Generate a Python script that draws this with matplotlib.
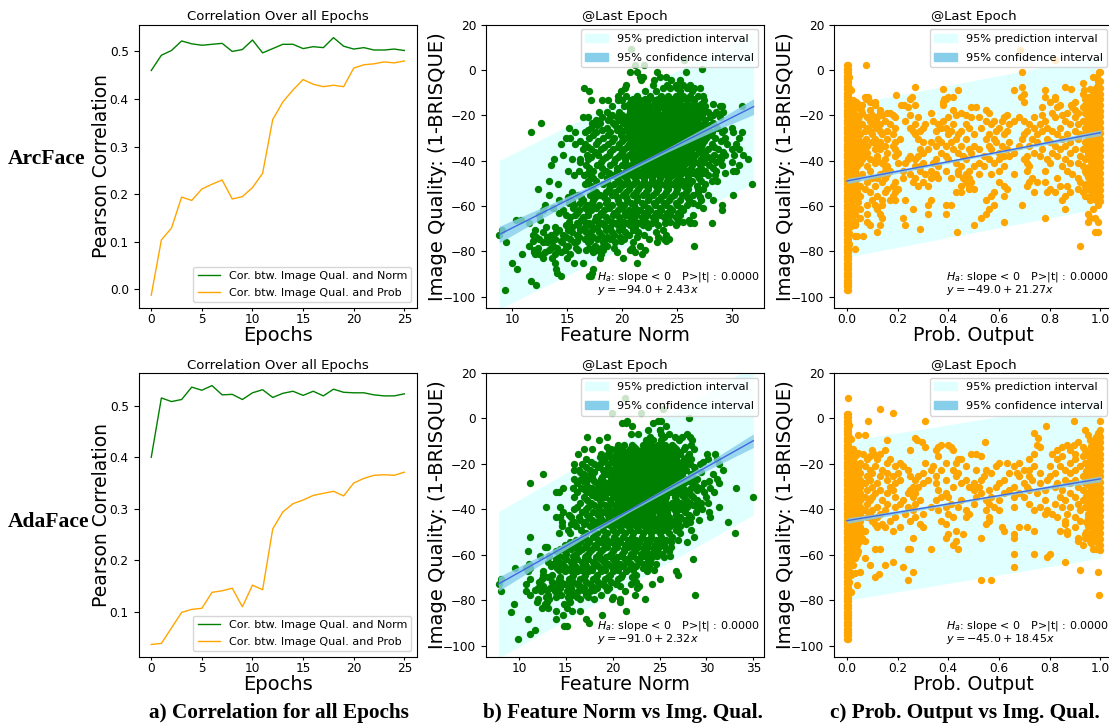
import numpy as np
import matplotlib
matplotlib.use("Agg")
import matplotlib.pyplot as plt
from matplotlib.patches import Patch

W, H = 1109, 723

epochs = list(range(26))
arc_cor_norm = [.460, .492, .502, .522, .516, .513, .515, .517, .500, .504, .524, .497, .506,
                .515, .515, .506, .510, .508, .529, .511, .505, .508, .503, .503, .505, .502]
arc_cor_prob = [-.012, .104, .129, .194, .187, .211, .221, .230, .190, .195, .214, .244, .357,
                .394, .419, .441, .431, .426, .429, .426, .465, .472, .474, .478, .476, .480]
ada_cor_norm = [.400, .515, .508, .512, .536, .530, .539, .521, .522, .512, .525, .531, .516,
                .524, .528, .520, .528, .519, .532, .526, .525, .525, .521, .519, .519, .523]
ada_cor_prob = [.037, .039, .069, .099, .105, .107, .138, .141, .146, .110, .152, .143, .261,
                .294, .310, .317, .326, .330, .334, .325, .350, .359, .365, .366, .365, .371]

# scatter points are stored as rows: (y, [x values])
arc_norm_rows = [
    (9, [20.8]), (4.3, [25.7]), (2.3, [21.2, 22]), (0.4, [27.3]),
    (-1, [20.7, 21.4, 23.2, 25.8]), (-3, [21.6, 21.9, 23.5, 24]), (-4.5, [21.7, 22.9, 24.5, 25.3]),
    (-6.5, [20.4, 22.8, 24.1, 24.9, 25.6, 26.2]), (-8, [16.5, 20.3, 23.7, 24.4, 25, 25.9, 26.6, 27.1]),
    (-9.5, [17, 19.9, 22.1, 23.1, 25.3, 26.4]),
    (-11.5, [19.6, 20.4, 21.4, 22.6, 23.6, 24.2, 24.9, 25.6, 26.2, 26.9, 27.4]),
    (-13.5, [17.2, 18.2, 18.7, 19.6, 20, 20.8, 21.6, 22.4, 23, 23.8, 24.5, 25.2, 25.9, 26.6, 27.5]),
    (-16, [19.1, 20.2, 21, 21.8, 22.5, 23.2, 23.8, 24.4, 25, 25.6, 26.2, 26.9, 27.6, 28.9, 29.1, 30.9]),
    (-18.5, [17.9, 18.6, 19.7, 20.7, 21.4, 22, 22.6, 23.2, 23.9, 24.5, 25.1, 25.7, 26.3, 27, 27.8, 28.6, 29.2]),
    (-21, [16.4, 16.9, 18.2, 18.9, 19.5, 20.4, 21.1, 21.7, 22.3, 22.9, 23.5, 24.1, 24.7, 25.3, 25.9, 26.5, 27.2, 28, 28.9]),
    (-23.5, [12.6, 17.3, 18, 19.2, 20.1, 20.8, 21.4, 22, 22.6, 23.2, 23.8, 24.4, 25, 25.6, 26.2, 26.8, 27.5, 28.3]),
    (-25.5, [15.2, 17.2, 18.6, 19.7, 20.5, 21.1, 21.7, 22.3, 22.9, 23.5, 24.1, 24.7, 25.3, 25.9, 26.5, 27.1, 27.8, 28.7, 30]),
    (-27.5, [11.7, 15.7, 16.6, 17.6, 18.9, 20, 20.8, 21.4, 22, 22.6, 23.2, 23.8, 24.4, 25, 25.6, 26.2, 26.8, 27.4, 28.2, 29.1, 30.1, 30.9]),
    (-30, [14.9, 15.3, 17, 18.3, 19.3, 20.3, 21, 21.6, 22.2, 22.8, 23.4, 24, 24.6, 25.2, 25.8, 26.4, 27, 27.7, 28.5, 29.4, 30.7]),
    (-32.5, [14.4, 15.7, 16.6, 17.6, 18.7, 19.7, 20.6, 21.3, 21.9, 22.5, 23.1, 23.7, 24.3, 24.9, 25.5, 26.1, 26.7, 27.3, 28.2, 29.6, 30.4]),
    (-35, [16.4, 17.2, 18.1, 19.2, 20.2, 21, 21.6, 22.2, 22.8, 23.4, 24, 24.6, 25.2, 25.8, 26.4, 27, 27.8, 28.8, 30, 30.7]),
    (-37.5, [14.6, 16.8, 17.8, 18.8, 19.8, 20.6, 21.3, 21.9, 22.5, 23.1, 23.7, 24.3, 24.9, 25.5, 26.1, 26.7, 27.4, 28.4, 29.4, 30.2, 31]),
    (-39.5, [13.8, 15.4, 16.2, 16.9, 18.3, 19.4, 20.3, 21, 21.6, 22.2, 22.8, 23.4, 24, 24.6, 25.2, 25.8, 26.5, 27.2, 28.1, 29, 31.5]),
    (-42, [13.5, 16.7, 17.7, 18.9, 20, 20.8, 21.5, 22.1, 22.7, 23.3, 23.9, 24.5, 25.1, 25.7, 26.4, 27.1, 27.9, 29.1, 30.7]),
    (-44.5, [15.1, 16.1, 17.4, 18.5, 19.5, 20.4, 21.1, 21.8, 22.4, 23, 23.6, 24.2, 24.8, 25.4, 26, 26.8, 27.6, 28.6, 30.1, 30.4]),
    (-46.5, [15.6, 16.5, 17.1, 18.1, 19.1, 20.1, 20.9, 21.6, 22.2, 22.8, 23.4, 24, 24.6, 25.3, 26, 26.8, 27.8, 28.5]),
    (-49, [13.3, 16.9, 17.6, 18.6, 19.7, 20.5, 21.3, 22, 22.7, 23.4, 24.1, 24.9, 25.6, 26.4, 27.2, 28.2, 28.7]),
    (-50.5, [14.2, 31.9, 16.6, 18.3, 19.3, 20.2, 21, 21.8, 22.6, 23.6, 24.5, 25.3, 26.1, 27.6]),
    (-52.5, [12.3, 17.4, 18.8, 19.7, 20.6, 21.5, 22.4, 23.3, 24.2, 25, 26, 26.9, 27.4]),
    (-55, [13.3, 16, 17.1, 18, 19.1, 20.1, 21, 21.9, 22.8, 23.8, 24.7, 25.5, 26.5, 27.8, 30.1]),
    (-57.5, [14.3, 15.4, 16.4, 17.4, 18.6, 19.6, 20.5, 21.4, 22.4, 23.3, 24.3, 25.3, 26.1, 27.2, 28.3]),
    (-59.5, [13, 15.6, 16.8, 17.9, 19.1, 20.2, 21.1, 22, 23, 24, 25, 25.9, 26.9, 29.1]),
    (-62, [12.8, 14.6, 16.1, 17.2, 18.4, 19.6, 20.6, 21.6, 22.6, 23.6, 24.6, 25.6, 29.1]),
    (-64, [12.4, 14.9, 15.7, 16.9, 18, 19.2, 20.3, 21.3, 22.3, 23.4, 24.4, 25.3, 26.5]),
    (-66, [10.3, 10.8, 12.5, 16.3, 17.5, 18.7, 19.8, 20.9, 22, 23, 24.1, 25.1, 26.1]),
    (-67.7, [11.5, 15.9, 17, 18.2, 19.4, 20.5, 21.6, 22.7, 23.9, 25, 26.2, 26.6, 28.2]),
    (-69.5, [13.1, 13.9, 15.4, 16.6, 17.7, 18.9, 20, 21.2, 22.4]),
    (-70.8, [9.1, 12.1, 14.3, 15.1, 16.2, 17.3, 18.5, 19.7, 21, 23.7]),
    (-72.6, [8.8, 11.9, 13.5, 14.6, 15.9, 17, 18.1, 19.3, 20.6, 22, 24]),
    (-74.5, [12.4, 13.9, 15.3, 16.6, 17.7, 18.9, 20.2, 22.5, 23.8, 24.3]),
    (-76, [9.4, 12.8, 13.2, 14.5, 15.6, 16.9, 18.3, 19.4, 21, 23.2]),
    (-77.7, [11.5, 13.7, 14.9, 15.1, 17.5, 18.6, 26.6, 21.6]),
    (-79.5, [12, 13.3, 14.8, 16, 16.7, 17.6, 18.3, 20.7, 22.1]),
    (-81, [10.9, 12.1, 12.4, 13.9, 15.3, 18.1, 21.8]),
    (-83, [12.8, 13.6, 15, 18, 20.1]),
    (-85.3, [10, 13.9, 15.6, 16.4, 21.4]),
    (-88, [10.4, 14, 17.4]), (-89.5, [14.1, 17.3]), (-91, [14.4, 17.2, 17]),
    (-93.3, [11.7]), (-95, [12.2]), (-97, [9.3]),
]
# points that fill the dense middle and the lower left group
arc_norm_fill = [
    (-12.7, [21, 22.1, 23.3, 24.6, 25.4, 26.5]),
    (-15, [20.6, 21.4, 22.2, 22.9, 23.5, 24.1, 24.8, 25.3, 25.9, 26.6, 27.2, 28.3]),
    (-17.3, [20.7, 21.4, 22, 22.6, 23.2, 23.8, 24.4, 25, 25.6, 26.2, 26.8, 27.5]),
    (-19.7, [19.1, 20, 20.6, 21.2, 21.8, 22.4, 23, 23.6, 24.2, 24.8, 25.4, 26, 26.6, 27.3, 28.3]),
    (-22.2, [17.6, 18.7, 19.7, 20.2, 20.8, 21.4, 22, 22.6, 23.2, 23.8, 24.4, 25, 25.6, 26.2, 26.8, 27.6]),
    (-24.5, [17.7, 19.4, 20.5, 21.1, 21.7, 22.3, 22.9, 23.5, 24.1, 24.7, 25.3, 25.9, 26.5, 27.2, 28]),
    (-26.5, [16.9, 18.2, 19.5, 20.3, 21, 21.6, 22.2, 22.8, 23.4, 24, 24.6, 25.2, 25.8, 26.4, 27, 27.6, 29.3]),
    (-28.8, [17.4, 18.7, 19.9, 20.6, 21.2, 21.8, 22.4, 23, 23.6, 24.2, 24.8, 25.4, 26, 26.6, 27.2, 28]),
    (-31.2, [16.2, 17.8, 19.1, 20, 20.8, 21.4, 22, 22.6, 23.2, 23.8, 24.4, 25, 25.6, 26.2, 26.8, 27.5, 29]),
    (-33.8, [16.9, 18.4, 19.6, 20.5, 21.1, 21.7, 22.3, 22.9, 23.5, 24.1, 24.7, 25.3, 25.9, 26.5, 27.2, 28.4]),
    (-36.2, [17.5, 18.9, 20, 20.9, 21.5, 22.1, 22.7, 23.3, 23.9, 24.5, 25.1, 25.7, 26.3, 27, 27.6, 29.2]),
    (-38.5, [17.2, 18.5, 19.6, 20.4, 21.1, 21.7, 22.3, 22.9, 23.5, 24.1, 24.7, 25.3, 25.9, 26.5, 27.8, 28.9]),
    (-40.8, [16.2, 18.1, 19.3, 20.3, 21.1, 21.8, 22.4, 23, 23.6, 24.2, 24.8, 25.4, 26, 26.7, 27.5, 28.6, 30]),
    (-43.3, [17, 18.2, 19.5, 20.5, 21.3, 22, 22.6, 23.2, 23.8, 24.4, 25, 25.6, 26.3, 27.2, 28.3]),
    (-45.5, [16.9, 18.8, 19.8, 20.6, 21.4, 22.1, 22.7, 23.3, 23.9, 24.5, 25.1, 25.8, 26.5, 27.4, 29.4]),
    (-47.8, [17.4, 18.6, 19.5, 20.4, 21.2, 22, 22.7, 23.5, 24.3, 25.1, 26, 27]),
    (-51.4, [17.2, 18.9, 19.9, 20.7, 21.6, 22.3, 23.1, 24, 24.9, 25.7, 26.8]),
    (-53.8, [15.4, 17.6, 18.5, 19.4, 20.4, 21.3, 22.2, 23.1, 24, 24.9, 25.8, 26.9]),
    (-56.2, [15.1, 16.3, 17.5, 18.4, 19.5, 20.4, 21.4, 22.5, 23.6, 24.5, 25.9, 27.1]),
    (-58.6, [15.2, 16.2, 17.3, 18.5, 19.7, 20.8, 21.8, 22.9, 23.8, 24.9, 26.5]),
    (-60.9, [13.7, 15.5, 16.6, 17.6, 18.8, 20, 21.2, 22.4, 23.5, 24.4, 25.4, 27.4]),
    (-63, [14.3, 15.9, 16.9, 18.1, 19.3, 20.3, 21, 22.1, 23.1, 24.1, 25.1]),
    (-65, [15.3, 16.4, 17.6, 18.5, 19.7, 20.7, 21.8, 22.8, 23.8, 24.9]),
    (-66.9, [15.2, 16.6, 17.9, 19.1, 20.2, 21.3, 22.2, 24.4, 25.6]),
    (-68.6, [14.9, 16, 17.2, 18.4, 19.6, 20.7, 21.9, 23.3, 24.9]),
    (-71.7, [12.8, 14, 15.4, 16.7, 17.9, 19.1, 20.3, 21.5, 23.1]),
    (-73.6, [12.2, 13.2, 14.9, 16.1, 17.4, 18.6, 19.8, 21.4, 23.3]),
    (-75.3, [11.9, 13.6, 14.4, 15.9, 17.1, 18.4, 19.9, 24]),
    (-78.6, [12.3, 13.5, 14.1, 15.8, 17, 18.1, 19.3, 20.9]),
    (-80.2, [12, 13, 14.4, 17.4, 19.5, 21.2]),
]

ada_norm_rows = [
    (9, [21.3]), (4.3, [25.4]), (2.3, [19.9, 23]), (0.4, [28.1]),
    (-1, [24.8, 25.1, 21.5]), (-2.2, [21, 21.4, 24.3]), (-3.3, [22.1, 25.7]), (-5, [23.8, 25, 25]),
    (-7, [21.9, 22.7, 25.1, 26, 27.9]), (-8, [17.3, 19.4, 24, 25.5, 26.6, 27.4, 28.2]),
    (-9.5, [18.5, 23.6, 24.3, 25.2, 27.1, 28.5]),
    (-11.5, [20.6, 21.2, 22.1, 23.2, 24, 24.8, 25.6, 26.3, 28.4]),
    (-13.5, [16.9, 17.8, 19.8, 20.4, 21, 21.8, 22.5, 23.2, 23.9, 24.6, 25.3, 26, 26.8, 27.6, 28.7]),
    (-15.5, [16.3, 18.7, 19.5, 20.3, 21, 21.7, 22.4, 23, 23.7, 24.4, 25.1, 25.8, 26.5, 27.2, 28.1, 30.1, 30.9]),
    (-18, [17.2, 19.1, 19.9, 20.6, 21.3, 22, 22.7, 23.3, 24, 24.7, 25.4, 26.1, 26.8, 27.6, 28.4, 30.2, 31.1]),
    (-20, [15.9, 16.7, 18, 18.6, 19.5, 20.2, 20.9, 21.6, 22.3, 23, 23.7, 24.4, 25.1, 25.8, 26.5, 27.3, 28.2, 29.3, 31.3]),
    (-22.5, [15.9, 16.4, 17.6, 19, 19.9, 20.6, 21.3, 22, 22.7, 23.4, 24.1, 24.8, 25.5, 26.2, 27, 27.8, 28.8, 31.8]),
    (-24.5, [12.6, 16.9, 17.7, 19.4, 20.3, 21, 21.7, 22.4, 23.1, 23.8, 24.5, 25.2, 25.9, 26.6, 27.4, 28.3, 30.7]),
    (-26.5, [15.9, 16.6, 17.4, 18.7, 19.8, 20.6, 21.3, 22, 22.7, 23.4, 24.1, 24.8, 25.5, 26.2, 27, 27.9, 29, 31.1]),
    (-28.5, [11.2, 16.2, 17.2, 18.3, 19.4, 20.3, 21, 21.7, 22.4, 23.1, 23.8, 24.5, 25.2, 25.9, 26.7, 27.6, 28.6, 29.7, 31.3]),
    (-30.5, [14.7, 15.8, 16.6, 17.8, 19, 20, 20.7, 21.4, 22.1, 22.8, 23.5, 24.2, 24.9, 25.6, 26.4, 27.3, 28.3, 29.4, 30.4, 33.2]),
    (-32.5, [13.9, 14.3, 16.2, 17.3, 18.6, 19.6, 20.4, 21.1, 21.8, 22.5, 23.2, 23.9, 24.6, 25.3, 26.1, 27, 28, 29.7, 30.8]),
    (-34.5, [15.9, 16.9, 18.2, 19.2, 20.1, 20.8, 21.5, 22.2, 22.9, 23.6, 24.3, 25, 25.7, 26.6, 27.6, 28.6, 29.9, 35]),
    (-37, [16.5, 17.7, 18.8, 19.8, 20.6, 21.3, 22, 22.7, 23.4, 24.1, 24.8, 25.5, 26.3, 27.2, 28.2, 29.4, 30.2]),
    (-39, [12.9, 14.4, 16.2, 17.4, 18.4, 19.4, 20.3, 21, 21.7, 22.4, 23.1, 23.8, 24.5, 25.2, 26, 26.9, 27.9, 29, 31.3]),
    (-41, [14.7, 16.7, 17.9, 19, 20, 20.8, 21.5, 22.2, 22.9, 23.6, 24.3, 25, 25.8, 26.7, 27.7, 28.9, 30.3]),
    (-43.5, [13.9, 14.4, 15.5, 16.4, 17.5, 18.6, 19.6, 20.5, 21.3, 22, 22.7, 23.5, 24.3, 25.1, 26, 27.2, 28.4, 30.4]),
    (-45.5, [14.6, 15.9, 17, 18.2, 19.2, 20.2, 21, 21.8, 22.6, 23.4, 24.2, 25, 26, 27, 28.2, 32.3]),
    (-47.5, [14.6, 16.1, 17.6, 18.7, 19.8, 20.7, 21.6, 22.5, 23.3, 24.2, 25.1, 26.1, 27.2]),
    (-50.5, [14.3, 15.4, 17.2, 18.3, 19.4, 20.4, 21.3, 22.2, 23.2, 24.1, 25, 26, 27.2, 33]),
    (-52, [11.2, 16.8, 17.9, 19.1, 20.1, 21.1, 22.1, 23.1, 24.1, 25.1, 26.3, 28.7]),
    (-54.5, [15.4, 16.5, 17.5, 18.6, 19.7, 20.8, 21.8, 22.8, 23.9, 25, 26.2, 27.9]),
    (-56.5, [13, 12.8, 15.1, 16, 17.1, 18.2, 19.4, 20.5, 21.6, 22.7, 23.8, 24.9, 26.2]),
    (-58.5, [11, 13.9, 14.9, 16.4, 17.6, 18.8, 20, 21.2, 22.4, 23.5, 24.7, 26]),
    (-60.5, [12.2, 13.2, 14.3, 15.8, 17.2, 18.4, 19.6, 20.9, 22.2, 23.4, 24.7, 26.1]),
    (-62, [13.9, 15, 16.2, 17.4, 18.7, 20, 21.3, 22.6, 23.8, 28.6]),
    (-64, [11.1, 13.6, 14.6, 15.8, 17, 18.2, 19.5, 20.8, 22, 23.3, 24.6]),
    (-65.7, [9.6, 10.7, 11.2, 14.1, 15.4, 16.6, 17.8, 19.1, 20.4, 21.8, 23.2]),
    (-67.3, [11, 12.6, 14.9, 16.2, 17.4, 18.7, 20, 21.4, 23.7, 26.7]),
    (-68.7, [12.6, 13.5, 15.8, 17, 18.3, 19.7, 21, 22.5, 27]),
    (-70.8, [8.1, 11.2, 12.5, 14.3, 15.3, 16.5, 17.9, 19.2, 20.6, 25]),
    (-72.8, [7.9, 10.8, 13.8, 14.9, 16.2, 17.6, 18.9, 20.3, 22, 24.2]),
    (-74.5, [12, 13.3, 14.4, 15.6, 16.9, 18.3, 19.6, 22.6]),
    (-76, [8.1, 10.8, 12.4, 13.8, 15.1, 16.3, 17.6, 21.3]),
    (-77.8, [11.2, 13.1, 14.5, 15.8, 17.1, 18.7, 22.4, 28.8]),
    (-79.3, [12, 13.2, 15.3, 16.5, 18, 19.9, 20.8, 23.4]),
    (-81, [11.9, 13, 15.4, 20.8]), (-81.5, [9.5, 14.8, 12.8]), (-83.5, [12.5, 13.1, 15.1]),
    (-84.7, [14, 16.5, 15.7, 21.4]), (-85.3, [9.2]), (-86.5, [14.7, 18.9]),
    (-88.2, [11, 14, 17.1]), (-90, [17.5]), (-91.5, [14.8, 15.1]), (-93.3, [11.7]), (-95, [11.2]), (-97, [9.9]),
]
ada_norm_fill = [
    (-12.6, [19.4, 20.8, 22.3, 23.5, 24.4, 25.2, 26.5, 27.7]),
    (-14.6, [19.6, 20.7, 21.4, 22.1, 22.8, 23.5, 24.2, 24.9, 25.6, 26.3, 27.1]),
    (-16.8, [18.6, 19.7, 20.6, 21.3, 22, 22.7, 23.3, 24, 24.7, 25.4, 26.1, 26.8, 27.9]),
    (-19, [17.7, 18.9, 20, 20.7, 21.4, 22.1, 22.7, 23.4, 24.1, 24.8, 25.5, 26.2, 27, 27.9, 29.6]),
    (-21.2, [17.1, 18.4, 19.5, 20.3, 21, 21.7, 22.4, 23.1, 23.8, 24.5, 25.2, 25.9, 26.7, 27.6, 28.7]),
    (-23.5, [16.5, 18, 19.1, 20, 20.7, 21.4, 22.1, 22.8, 23.5, 24.2, 24.9, 25.6, 26.4, 27.3, 29.4]),
    (-25.6, [17.8, 18.9, 20, 20.7, 21.4, 22.1, 22.8, 23.5, 24.2, 24.9, 25.6, 26.3, 27.2, 28.6]),
    (-27.6, [16.8, 18, 19, 20, 20.7, 21.4, 22.1, 22.8, 23.5, 24.2, 24.9, 25.6, 26.3, 27.2, 28.1, 30.3]),
    (-29.6, [17.3, 18.5, 19.6, 20.4, 21.1, 21.8, 22.5, 23.2, 23.9, 24.6, 25.3, 26, 26.9, 28.9]),
    (-31.6, [17, 18.1, 19.3, 20.3, 21, 21.7, 22.4, 23.1, 23.8, 24.5, 25.2, 25.9, 26.7, 27.7, 29]),
    (-33.6, [17.8, 19, 20, 20.8, 21.5, 22.2, 22.9, 23.6, 24.3, 25, 25.7, 26.6, 27.4, 28.4]),
    (-35.8, [17.3, 18.6, 19.7, 20.6, 21.3, 22, 22.7, 23.4, 24.1, 24.8, 25.6, 26.7, 27.8, 29]),
    (-38, [18, 19.2, 20.2, 20.9, 21.6, 22.3, 23, 23.7, 24.4, 25.1, 25.9, 26.7, 27.7, 28.6]),
    (-40, [15.9, 17.1, 18.5, 19.6, 20.5, 21.2, 21.9, 22.6, 23.3, 24, 24.7, 25.5, 26.5, 27.3, 29.5]),
    (-42.3, [15.3, 17.3, 18.4, 19.5, 20.4, 21.1, 21.8, 22.6, 23.4, 24.2, 25, 25.8, 26.8, 28.1]),
    (-44.5, [16.5, 17.8, 18.9, 19.9, 20.8, 21.6, 22.3, 23.1, 23.9, 24.7, 25.5, 26.6, 27.7, 29.2]),
    (-46.5, [15.6, 16.9, 18.1, 19.3, 20.2, 21.1, 21.9, 22.8, 23.7, 24.6, 25.6, 26.6, 27.8]),
    (-49, [15.2, 16.6, 17.9, 19, 20, 20.9, 21.8, 22.7, 23.7, 24.6, 25.6, 26.8, 28.3]),
    (-53.3, [16.1, 17.3, 18.4, 19.4, 20.5, 21.6, 22.5, 23.5, 24.6, 25.7, 27]),
    (-55.5, [14.9, 16.2, 17.1, 18.1, 19.2, 20.2, 21.3, 22.3, 23.4, 24.5, 25.5]),
    (-57.5, [14.4, 15.6, 16.7, 17.8, 19, 20.1, 21.2, 22.3, 23.3, 24.4, 25.7]),
    (-59.5, [15, 16.1, 17.4, 18.5, 19.8, 21, 22, 23, 24.1, 25.3]),
    (-61.2, [14.8, 16, 17, 18.2, 19.3, 20.5, 21.8, 23, 24.2, 25.5]),
    (-63, [13.1, 14.3, 15.5, 16.7, 17.9, 19.1, 20.3, 21.5, 22.8, 24]),
    (-64.9, [13.4, 14.8, 16, 17.2, 18.4, 19.8, 21.1, 22.5, 23.9]),
    (-66.5, [14.3, 15.4, 16.6, 17.8, 19.2, 20.6, 22.2, 24.4]),
    (-69.8, [13.1, 14.4, 15.7, 16.9, 18.2, 19.5, 20.9, 22.1]),
    (-71.8, [12.1, 13.5, 14.5, 15.8, 17.1, 18.4, 19.8, 22.5]),
    (-73.6, [12.6, 13.9, 15.2, 16.5, 17.8, 19.2, 20.8, 22.8]),
    (-75.3, [11.7, 13, 14.2, 15.5, 16.8, 18, 19.4]),
    (-78.5, [12.9, 14, 15.2, 16.2, 17.4, 20]),
]

arc_prob_rows = [
    (8.8, [.683]), (4.3, [.82]), (2.3, [.075]), (-1, [.69, .994]), (-3, [.97, .985]), (-5, [.99]),
    (-6, [.93]), (-7.5, [.27, .69, .86]), (-8.5, [.38, .885, .96]), (-9, [.44, .66, .78, .935]),
    (-10.5, [.70, .93, .98]), (-11, [.195, .985]), (-12, [.07, .085, .255, .40, .42, .685, .78, .82, .95]),
    (-13, [.075, .25, .39, .385, .82, .94, .97]), (-14, [.035, .09, .11, .38, .70, .80, .90, .96]),
    (-15.5, [.03, .06, .11, .215, .225, .27, .38, .885, .84, .94, .975]),
    (-16.5, [.24, .49, .51, .77, .83, .89, .93, .98]), (-17.5, [.055, .09, .13, .55, .42, .90, .96]),
    (-19, [.06, .13, .16, .17, .33, .45, .56, .81, .87, .91, .94, .985]),
    (-20, [.05, .10, .14, .18, .25, .47, .43, .63, .77, .85, .97]),
    (-21, [.03, .08, .12, .19, .28, .40, .49, .52, .62, .68, .74, .82, .90, .95]),
    (-22.5, [.04, .09, .115, .15, .23, .34, .38, .55, .58, .61, .66, .70, .78, .86, .93, .98]),
    (-24, [.02, .06, .10, .13, .17, .27, .31, .36, .42, .47, .57, .64, .72, .76, .88, .91, .96]),
    (-25.5, [.045, .08, .115, .19, .25, .30, .37, .39, .48, .53, .60, .74, .79, .84, .94, .975]),
    (-27, [.03, .07, .09, .13, .16, .26, .29, .35, .41, .45, .59, .63, .71, .77, .81, .90, .99]),
    (-28.5, [.02, .05, .10, .14, .18, .27, .40, .44, .50, .56, .62, .70, .75, .83, .87, .92, .96]),
    (-30.5, [.035, .075, .11, .16, .21, .28, .36, .43, .47, .55, .58, .69, .73, .79, .85, .91, .97]),
    (-32, [.02, .06, .10, .13, .19, .30, .33, .37, .41, .59, .64, .75, .80, .88, .94, .99]),
    (-33.5, [.04, .08, .12, .15, .18, .35, .39, .45, .50, .56, .61, .68, .72, .82, .86, .96]),
    (-35, [.03, .06, .11, .13, .19, .29, .32, .42, .48, .52, .57, .63, .77, .84, .90, .93, .98]),
    (-36.5, [.02, .05, .08, .16, .20, .30, .37, .44, .49, .60, .66, .74, .81, .88, .95]),
    (-38, [.04, .07, .12, .19, .25, .28, .39, .46, .54, .62, .64, .71, .76, .83, .92, .97]),
    (-39.5, [.03, .06, .09, .12, .15, .24, .27, .35, .40, .47, .56, .60, .70, .79, .86, .94]),
    (-41, [.02, .05, .11, .14, .20, .23, .30, .34, .43, .52, .58, .71, .80, .88, .91, .98]),
    (-42.5, [.04, .08, .15, .16, .27, .29, .36, .45, .50, .54, .62, .72, .85, .93, .96]),
    (-44.5, [.03, .09, .15, .17, .22, .29, .33, .39, .44, .48, .60, .71, .78, .87, .94]),
    (-46, [.02, .06, .13, .16, .25, .31, .35, .44, .47, .52, .57, .66, .89, .97]),
    (-47.5, [.04, .10, .12, .15, .22, .27, .33, .36, .41, .46, .48, .73, .83, .91, .99]),
    (-49.5, [.03, .08, .14, .19, .26, .30, .47, .49, .60, .72, .75, .78, .92, .96]),
    (-51, [.05, .11, .18, .28, .32, .45, .48, .62, .71, .84, .87, .94]),
    (-52.5, [.03, .07, .16, .20, .48, .50, .63, .80, .91, .98]),
    (-54, [.04, .09, .15, .19, .43, .45, .58, .74, .79, .82, .88, .93, .97]),
    (-55.5, [.02, .05, .12, .18, .57, .62, .86, .94, .97]),
    (-57.5, [.03, .10, .14, .17, .19, .23, .33, .55, .85, .96, .99]),
    (-59.5, [.08, .11, .14, .32, .39, .41, .58, .69, .99]), (-61.5, [.05, .12, .26, .56, .86, .97]),
    (-63.5, [.03, .08, .13, .32, .39, .55, .95]), (-65.5, [.05, .14, .22, .53, .78, .96, .98]),
    (-67, [.08, .03, .62, .99, .95]), (-68.5, [.09, .03, .23, .50, .13]), (-70, [.29]),
    (-71.5, [.12, .435, .98, .99]), (-73.2, [.04, .065, .03]), (-77.7, [.92]), (-79.2, [.03]),
]
ada_prob_rows = [
    (8.8, [.005]), (4.3, [.13]), (2.3, [.18]), (-1.3, [.085, .31, .895]), (-3.2, [.785]), (-5.3, [.94]), (-6.2, [.74]),
    (-7.5, [.07, .045, .95, .995]), (-8.5, [.27, .755]), (-9.5, [.16, .275, .96]),
    (-10.3, [.295, .545, .91]), (-11.5, [.37, .40, .75, .895, .98, .87]), (-12.5, [.31, .36, .76, .41, .85, .93]),
    (-14, [.10, .15, .25, .35, .42, .83, .88, .94, .97]), (-15.5, [.04, .065, .105, .13, .49, .51, .74, .81, .90, .99]),
    (-16.5, [.09, .36, .53, .85, .93, .97]), (-18, [.08, .12, .17, .45, .44, .72, .83, .90, .96]),
    (-19.5, [.05, .16, .21, .31, .39, .43, .60, .63, .68, .88, .94, .99]),
    (-21, [.07, .11, .19, .22, .34, .47, .59, .66, .74, .80, .84, .92, .97]),
    (-22.5, [.03, .09, .14, .24, .33, .37, .42, .51, .55, .70, .72, .86, .90, .95]),
    (-24, [.05, .10, .16, .20, .30, .44, .57, .64, .67, .76, .82, .88, .98]),
    (-25.5, [.03, .08, .13, .18, .25, .28, .35, .43, .54, .68, .72, .80, .93, .96]),
    (-27, [.05, .09, .16, .21, .27, .32, .39, .47, .53, .62, .73, .79, .86, .90, .99]),
    (-28.5, [.03, .07, .12, .19, .30, .35, .45, .50, .60, .70, .76, .83, .88, .94]),
    (-30, [.05, .10, .17, .26, .28, .42, .48, .52, .59, .66, .71, .82, .91, .97]),
    (-31.5, [.03, .08, .13, .18, .25, .36, .50, .56, .64, .72, .78, .85, .93, .99]),
    (-33, [.05, .11, .16, .24, .27, .39, .53, .62, .68, .75, .88, .95]),
    (-34.5, [.03, .07, .10, .19, .26, .37, .40, .51, .57, .66, .70, .84, .90, .97]),
    (-36, [.05, .09, .14, .22, .29, .35, .45, .55, .60, .78, .86, .93, .99]),
    (-37.5, [.03, .08, .16, .21, .27, .41, .50, .56, .72, .82, .91, .96]),
    (-39, [.05, .12, .19, .24, .33, .39, .44, .58, .66, .76, .85, .88, .94]),
    (-40.5, [.03, .07, .10, .15, .26, .36, .47, .55, .60, .74, .79, .92, .98]),
    (-42, [.05, .09, .13, .23, .30, .40, .48, .78, .81, .87, .95]),
    (-43.5, [.03, .08, .12, .19, .27, .42, .47, .56, .83, .90, .97]),
    (-45, [.05, .10, .17, .25, .37, .56, .86, .92, .99]), (-46.5, [.03, .11, .14, .29, .39, .55, .86, .95]),
    (-48, [.05, .12, .15, .21, .30, .61, .68, .71, .90, .98]), (-49.5, [.03, .07, .18, .43, .62, .74, .84, .87]),
    (-51, [.05, .40, .46, .66, .87, .94, .99]), (-52.5, [.03, .06, .26, .39, .53, .66, .91, .94]),
    (-54, [.05, .07, .43, .91, .96, .98]), (-55.5, [.03, .04, .42, .93]), (-57.5, [.03, .11, .13, .24, .25, .33, .44, .97]),
    (-59.5, [.04, .66, .74, .80]), (-60.8, [.79]), (-61.5, [.03, .07]), (-63, [.18, .86]), (-64.5, [.09, .15]),
    (-65.5, [.22, .66]), (-66.5, [.92]), (-67.5, [.05, .26, .99]), (-68.5, [.125]), (-70, [.11]),
    (-71, [.53, .57, .24]), (-73.2, [.04]), (-77.8, [.995]), (-76.5, [.015]),
]

# thick vertical strips of points at the two ends of the probability axis: (x, [y values])
strip0_y = [2, .5, -1, -2.5, -4, -5.5, -7, -8.5, -10, -11.5, -13, -14.5, -16, -17.5, -19, -20.5, -22, -23.5,
            -25, -26.5, -28, -29.5, -31, -32.5, -34, -35.5, -37, -38.5, -40, -41.5, -43, -44.5, -46, -47.5,
            -49, -50.5, -52, -53.5, -55, -56.5, -58, -59.5, -61, -62.5, -64, -65.5, -67, -68.5, -70, -71.5,
            -73, -74.5, -76, -77.5, -79, -80.5, -82, -83.5, -85, -86.5, -88, -89.5, -91, -92.5, -94, -95.5, -97]
end_columns = [
    (.001, strip0_y), (.004, strip0_y),
    (.009, [-3, -8, -13, -16, -19, -22, -25, -28, -31, -34, -37, -40, -43, -46, -49, -52, -55, -58, -61, -64, -67, -72, -77]),
    (.016, [-9, -14.5, -17.5, -20.5, -23.5, -26.5, -29.5, -32.5, -35.5, -38.5, -41.5, -44.5, -47.5, -50.5, -53.5, -56.5, -59.5, -62.5, -69]),
    (.024, [-13.5, -18.8, -22.4, -24.3, -29, -31.6, -35, -38.7, -41.2, -45.8, -48.3, -53, -57.4, -64.6]),
    (.033, [-16.6, -20.1, -25.7, -27.4, -33.2, -36.9, -42.5, -44.1, -50, -55.3, -60.8, -68]),
    (.043, [-15.2, -21.8, -24.9, -30.3, -34.4, -39.8, -46.6, -51.7, -58.2]),
    (.999, [-1, -5, -8, -10.5, -13, -15.5, -18, -20.5, -23, -25.5, -28, -30.5, -33, -35.5, -38, -40.5, -43, -45.5, -48, -50.5, -53, -55.5, -58]),
    (.99, [-6.5, -9.3, -11.8, -14.2, -16.8, -19.3, -21.7, -24.2, -26.8, -29.3, -31.7, -34.2, -36.8, -39.3, -41.8, -44.2, -46.8, -49.3, -51.8, -54.2, -56.8]),
    (.981, [-8, -12.4, -15, -17.6, -20, -22.4, -25, -27.6, -30, -32.4, -35, -37.6, -40, -42.4, -45, -47.6, -50, -52.4, -57.6]),
    (.972, [-10.6, -13.8, -16.2, -18.9, -21.3, -23.8, -26.3, -28.9, -31.2, -33.8, -36.3, -38.9, -41.2, -43.8, -46.3, -48.9, -54]),
    (.963, [-12.2, -17.2, -19.7, -22.9, -25.1, -28, -30.6, -34.6, -37.1, -40.4, -42.7, -46, -50.8, -55]),
    (.953, [-14.6, -20.8, -24.4, -29.3, -32.8, -36.2, -44, -47.2, -52.6]),
    (.942, [-16.1, -23.1, -27.2, -34, -39, -45.4, -50.2]),
]

arc_norm_x, arc_norm_band_hi, arc_norm_band_lo = [8.8, 32], [-40, 16.5], [-105.5, -50]
arc_norm_fit = [-72.6, -16.2]
arc_norm_ci_x = [8.8, 14, 18, 21, 24, 28, 32]
arc_norm_ci_lo = [-76.2, -62, -51.4, -43.8, -36.6, -27.8, -19.7]
arc_norm_ci_hi = [-69, -58, -49.2, -42.2, -34.8, -24.2, -12.7]

ada_norm_x, ada_norm_band_hi, ada_norm_band_lo = [7.8, 35], [-41, 23], [-105.5, -42.5]
ada_norm_fit = [-72.9, -9.8]
ada_norm_ci_x = [7.8, 13, 18, 22, 26, 30, 35]
ada_norm_ci_lo = [-76, -62.6, -50.2, -40.7, -31.7, -23, -12.8]
ada_norm_ci_hi = [-69.8, -59, -48.2, -39.3, -29.7, -19.8, -6.8]

prob_x = [0, 1]
prob_ci_x = [0, .25, .5, .75, 1]
arc_prob_band_hi, arc_prob_band_lo = [-15.5, 6], [-82.5, -61]
arc_prob_fit = [-49, -27.7]
arc_prob_ci_lo = [-50.2, -44.4, -38.9, -33.7, -29]
arc_prob_ci_hi = [-47.8, -43, -37.9, -32.3, -26.4]
ada_prob_band_hi, ada_prob_band_lo = [-10, 8], [-80, -61.5]
ada_prob_fit = [-45, -26.6]
ada_prob_ci_lo = [-46.2, -41.1, -36.3, -31.9, -27.9]
ada_prob_ci_hi = [-43.8, -39.7, -35.3, -30.5, -25.3]


def axes_px(left, top, right, bottom):
    return [left / W, 1 - bottom / H, (right - left) / W, (bottom - top) / H]


def expand(rows):
    xs, ys = [], []
    for y, row in rows:
        xs += row
        ys += [y] * len(row)
    return xs, ys


def plot_corr(pos, norm, prob, ylim, yticks):
    ax = fig.add_axes(axes_px(*pos))
    ax.plot(epochs, norm, color="green", lw=1, label="Cor. btw. Image Qual. and Norm")
    ax.plot(epochs, prob, color="orange", lw=1, label="Cor. btw. Image Qual. and Prob")
    ax.set_xlim(-1.26, 26.25)
    ax.set_ylim(*ylim)
    ax.set_xticks(range(0, 26, 5))
    ax.set_yticks(yticks)
    ax.tick_params(labelsize=8.7)
    ax.tick_params(axis="x", length=2.5, pad=1)
    ax.set_title("Correlation Over all Epochs", fontsize=9.5, pad=3)
    ax.set_xlabel("Epochs", fontsize=14, labelpad=0)
    ax.set_ylabel("Pearson Correlation", fontsize=13.5, labelpad=-1)
    ax.legend(loc="lower right", fontsize=8, borderaxespad=0.5, labelspacing=0.6)


def plot_fit(pos, xs, ys, color, line_x, fit, band_lo, band_hi, ci_x, ci_lo, ci_hi,
             xlim, xticks, xlabel, eq):
    ax = fig.add_axes(axes_px(*pos))
    ax.fill_between(line_x, band_lo, band_hi, color="lightcyan", lw=0, zorder=1)
    ax.scatter(xs, ys, s=28, color=color, lw=0, zorder=2)
    ax.fill_between(ci_x, ci_lo, ci_hi, color="skyblue", lw=0, alpha=0.8, zorder=3)
    ax.plot(line_x, fit, color="royalblue", lw=1, zorder=4)
    ax.set_xlim(*xlim)
    ax.set_ylim(-105, 20)
    ax.set_xticks(xticks)
    ax.set_yticks(range(-100, 21, 20))
    ax.tick_params(labelsize=8.7)
    ax.tick_params(axis="x", length=2.5, pad=1)
    ax.set_title("@Last Epoch", fontsize=9.5, pad=3)
    ax.set_xlabel(xlabel, fontsize=13.7, labelpad=0)
    ax.set_ylabel("Image Quality: (1-BRISQUE)", fontsize=14, labelpad=-3)
    handles = [Patch(color="lightcyan", label="95% prediction interval"),
               Patch(color="skyblue", label="95% confidence interval")]
    leg = ax.legend(handles=handles, loc="upper right", fontsize=8.1, borderaxespad=0,
                    bbox_to_anchor=(0.98, 0.984), labelspacing=0.8)
    leg.set_zorder(5)
    ax.text(0.40, 0.11, r"$H_a$: slope < 0   P>|t| : 0.0000", transform=ax.transAxes,
            fontsize=8, va="center", zorder=6)
    ax.text(0.40, 0.063, eq, transform=ax.transAxes, fontsize=8, va="center", zorder=6)


def prob_points(rows):
    xs, ys = expand(rows)
    for x, col_y in end_columns:
        xs += [x] * len(col_y)
        ys += col_y
    return xs, ys


fig = plt.figure(figsize=(W / 100, H / 100), dpi=100)

plot_corr((138.5, 24.5, 417, 308), arc_cor_norm, arc_cor_prob, (-0.039, 0.5566), [0, .1, .2, .3, .4, .5])
plot_corr((138.5, 373, 417, 657), ada_cor_norm, ada_cor_prob, (0.0126, 0.5634), [.1, .2, .3, .4, .5])

xs, ys = expand(arc_norm_rows + arc_norm_fill)
plot_fit((486, 24.5, 764, 308), xs, ys, "green", arc_norm_x, arc_norm_fit, arc_norm_band_lo, arc_norm_band_hi,
         arc_norm_ci_x, arc_norm_ci_lo, arc_norm_ci_hi, (7.6, 32.95), range(10, 31, 5), "Feature Norm",
         r"$y = -94.0 + 2.43x$")
xs, ys = expand(ada_norm_rows + ada_norm_fill)
plot_fit((486, 373, 764, 657), xs, ys, "green", ada_norm_x, ada_norm_fit, ada_norm_band_lo, ada_norm_band_hi,
         ada_norm_ci_x, ada_norm_ci_lo, ada_norm_ci_hi, (6.48, 36.14), range(10, 36, 5), "Feature Norm",
         r"$y = -91.0 + 2.32x$")

prob_ticks = [0, .2, .4, .6, .8, 1]
xs, ys = prob_points(arc_prob_rows)
plot_fit((834, 24.5, 1113, 308), xs, ys, "orange", prob_x, arc_prob_fit, arc_prob_band_lo, arc_prob_band_hi,
         prob_ci_x, arc_prob_ci_lo, arc_prob_ci_hi, (-0.051, 1.05), prob_ticks, "Prob. Output",
         r"$y = -49.0 + 21.27x$")
xs, ys = prob_points(ada_prob_rows)
plot_fit((834, 373, 1113, 657), xs, ys, "orange", prob_x, ada_prob_fit, ada_prob_band_lo, ada_prob_band_hi,
         prob_ci_x, ada_prob_ci_lo, ada_prob_ci_hi, (-0.051, 1.05), prob_ticks, "Prob. Output",
         r"$y = -45.0 + 18.45x$")

serif = dict(family="Liberation Serif", weight="bold", va="center", transform=fig.transFigure)
fig.text(8 / W, 1 - 159 / H, "ArcFace", fontsize=15.5, **serif)
fig.text(8 / W, 1 - 522 / H, "AdaFace", fontsize=15.5, **serif)
fig.text(279 / W, 1 - 713 / H, "a) Correlation for all Epochs", fontsize=15.3, ha="center", **serif)
fig.text(622.5 / W, 1 - 713 / H, "b) Feature Norm vs Img. Qual.", fontsize=15.3, ha="center", **serif)
fig.text(965 / W, 1 - 713 / H, "c) Prob. Output vs Img. Qual.", fontsize=15.3, ha="center", **serif)

fig.savefig("out.png", dpi=100)
